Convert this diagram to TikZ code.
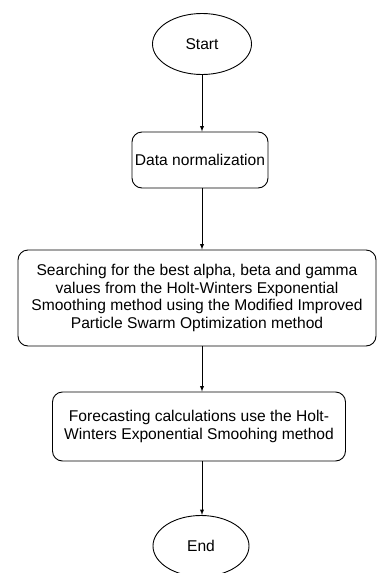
\documentclass[tikz,border=0pt]{standalone}
\usepackage{fontspec}
\setmainfont{Liberation Sans}
\usetikzlibrary{shapes.geometric,positioning}

\begin{document}
\begin{tikzpicture}[x=1pt,y=-1pt,
		term/.style={draw,ellipse,line width=0.9pt,inner sep=0pt,minimum width=99pt,minimum height=61pt},
		proc/.style={draw,rounded corners=10pt,line width=0.9pt,inner sep=0pt,align=center},
		font=\fontsize{15.6}{17.4}\selectfont]
		\useasboundingbox (0,0) rectangle (377,573);
		\node[term] (start) at (202,44) {Start};
		\node[proc,minimum width=136pt,minimum height=56pt] (norm) at (200,160) {Data normalization};
		\node[proc,minimum width=358pt,minimum height=96pt] (pso) at (197,298) {Searching for the best alpha, beta and gamma\\values from the Holt-Winters Exponential\\Smoothing method using the Modified Improved\\Particle Swarm Optimization method};
		\node[proc,minimum width=293pt,minimum height=69pt] (hw) at (199,426.5) {Forecasting calculations use the Holt-\\Winters Exponential Smoohing method};
		\node[term,minimum width=96pt] (end) at (201,546) {End};
		\draw[-latex,line width=0.9pt] (start.south) -- (start.south |- norm.north);
		\draw[-latex,line width=0.9pt] (start.south |- norm.south) -- (start.south |- pso.north);
		\draw[-latex,line width=0.9pt] (start.south |- pso.south) -- (start.south |- hw.north);
		\draw[-latex,line width=0.9pt] (start.south |- hw.south) -- (start.south |- end.north);
	\end{tikzpicture}
\end{document}
